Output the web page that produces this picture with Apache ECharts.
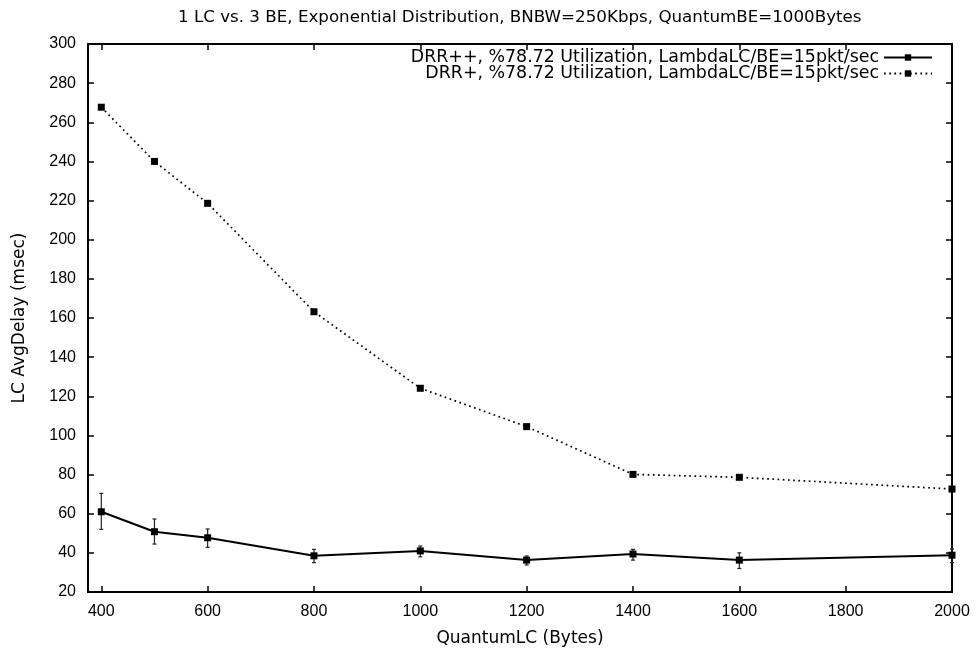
<!DOCTYPE html>
<html>
<head>
<meta charset="utf-8">
<style>
  html, body { margin: 0; padding: 0; background: #fff; }
  #chart { width: 976px; height: 652px; }
</style>
<script src="https://cdn.jsdelivr.net/npm/echarts@6/dist/echarts.min.js"></script>
</head>
<body>
<div id="chart"></div>
<script>
// LC quantum sizes (bytes) on the x axis
const quantumLC = [400, 500, 600, 800, 1000, 1200, 1400, 1600, 2000];
const xTickValues = [400, 600, 800, 1000, 1200, 1400, 1600, 1800, 2000];

// DRR++ average LC delay (msec) with confidence interval
const drrPlusPlus     = [61.0, 50.8, 47.7, 38.5, 41.0, 36.3, 39.4, 36.3, 38.8];
const drrPlusPlusLow  = [52.0, 44.5, 42.8, 35.0, 38.0, 33.8, 36.3, 32.0, 35.0];
const drrPlusPlusHigh = [70.4, 57.3, 52.2, 41.8, 43.5, 38.4, 41.8, 40.0, 42.0];

// DRR+ average LC delay (msec)
const drrPlus = [267.7, 240.0, 218.6, 163.2, 124.1, 104.5, 80.1, 78.6, 72.6];

const nameDrrPP = 'DRR++, %78.72 Utilization, LambdaLC/BE=15pkt/sec';
const nameDrrP  = 'DRR+, %78.72 Utilization, LambdaLC/BE=15pkt/sec';
const titleText = '1 LC vs. 3 BE, Exponential Distribution, BNBW=250Kbps, QuantumBE=1000Bytes';

const wideFont = 'DejaVu Sans, Verdana, sans-serif';
const numFont = 'Liberation Sans, Arial, Helvetica, sans-serif';
const ink = '#000';

const pairs = (xs, ys) => xs.map((x, i) => [x, ys[i]]);
const errData = quantumLC.map((x, i) => [x, drrPlusPlusLow[i], drrPlusPlusHigh[i]]);

const chart = echarts.init(document.getElementById('chart'), null, { renderer: 'canvas' });

const commonX = {
  type: 'value', min: 375, max: 2000,
  axisLine: { show: true, lineStyle: { color: ink, width: 2 } },
  axisTick: { show: true, inside: true, length: 6, customValues: xTickValues, lineStyle: { color: ink, width: 1.5 } },
  splitLine: { show: false }
};
const commonY = {
  type: 'value', min: 20, max: 300, interval: 20,
  axisLine: { show: true, lineStyle: { color: ink, width: 2 } },
  axisTick: { show: true, inside: true, length: 6, lineStyle: { color: ink, width: 1.5 } },
  splitLine: { show: false }
};

const legendText = { fontFamily: wideFont, fontSize: 17.4, color: ink };

chart.setOption({
  animation: false,
  backgroundColor: '#fff',
  title: {
    text: titleText, left: 173, top: 4,
    textStyle: { fontFamily: wideFont, fontSize: 16.7, fontWeight: 'normal', color: ink }
  },
  grid: {
    left: 88, right: 24, top: 44, bottom: 60,
    containLabel: false, outerBoundsMode: 'none'
  },
  legend: [
    {
      data: [nameDrrPP], right: 43, top: 49, align: 'right', orient: 'vertical',
      padding: 0, itemWidth: 48, itemHeight: 8, textStyle: legendText
    },
    {
      data: [nameDrrP], right: 43, top: 65, align: 'right', orient: 'vertical',
      padding: 0, itemWidth: 48, itemHeight: 8, textStyle: legendText
    }
  ],
  xAxis: [
    Object.assign({}, commonX, {
      position: 'bottom',
      name: 'QuantumLC (Bytes)', nameLocation: 'middle', nameGap: 38,
      nameTextStyle: { fontFamily: wideFont, fontSize: 17, color: ink },
      axisLabel: {
        show: true, customValues: xTickValues, margin: 12,
        fontFamily: numFont, fontSize: 16, color: ink,
        formatter: v => String(v)
      }
    }),
    Object.assign({}, commonX, { position: 'top', axisLabel: { show: false } })
  ],
  yAxis: [
    Object.assign({}, commonY, {
      position: 'left',
      name: 'LC AvgDelay (msec)', nameLocation: 'middle', nameGap: 60, nameRotate: 90,
      nameTextStyle: { fontFamily: wideFont, fontSize: 17, color: ink },
      axisLabel: { show: true, margin: 12, fontFamily: numFont, fontSize: 16, color: ink }
    }),
    Object.assign({}, commonY, { position: 'right', axisLabel: { show: false } })
  ],
  series: [
    {
      name: nameDrrPP, type: 'line', xAxisIndex: 0, yAxisIndex: 0,
      data: pairs(quantumLC, drrPlusPlus),
      symbol: 'rect', symbolSize: 7, showAllSymbol: true,
      lineStyle: { color: ink, width: 2, type: 'solid' },
      itemStyle: { color: ink }, z: 3
    },
    {
      name: nameDrrPP + ' error', type: 'custom', xAxisIndex: 0, yAxisIndex: 0,
      data: errData, z: 2,
      renderItem: function (params, api) {
        const top = api.coord([api.value(0), api.value(2)]);
        const bot = api.coord([api.value(0), api.value(1)]);
        const cap = 2;
        const style = { stroke: '#222', lineWidth: 1.2, fill: null };
        return {
          type: 'group',
          children: [
            { type: 'line', shape: { x1: top[0], y1: top[1], x2: bot[0], y2: bot[1] }, style: style },
            { type: 'line', shape: { x1: top[0] - cap, y1: top[1], x2: top[0] + cap, y2: top[1] }, style: style },
            { type: 'line', shape: { x1: bot[0] - cap, y1: bot[1], x2: bot[0] + cap, y2: bot[1] }, style: style }
          ]
        };
      }
    },
    {
      name: nameDrrP, type: 'line', xAxisIndex: 0, yAxisIndex: 0,
      data: pairs(quantumLC, drrPlus),
      symbol: 'rect', symbolSize: 7, showAllSymbol: true,
      lineStyle: { color: ink, width: 1.7, type: [1.7, 3.5] },
      itemStyle: { color: ink }, z: 3
    }
  ]
});
</script>
</body>
</html>
